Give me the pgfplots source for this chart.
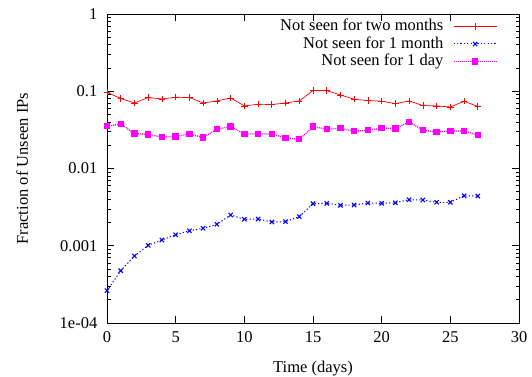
\documentclass[border=0pt]{standalone}
\usepackage{fontspec}
\setmainfont{Liberation Serif}
\usepackage{pgfplots}
\pgfplotsset{compat=1.18}
\usepackage{pgfplotstable}
\definecolor{gpred}{rgb}{1,0,0}
\definecolor{gpblue}{rgb}{0,0,1}
\definecolor{gpmag}{rgb}{1,0,1}

\pgfplotstableread{
x y
0 0.097
1 0.0804
2 0.0706
3 0.0829
4 0.0795
5 0.0836
6 0.0829
7 0.0706
8 0.0749
9 0.0819
10 0.0646
11 0.0679
12 0.0673
13 0.0706
14 0.0749
15 0.102
16 0.102
17 0.0896
18 0.0788
19 0.0758
20 0.0742
21 0.0693
22 0.0749
23 0.0653
24 0.0646
25 0.0626
26 0.0742
27 0.0636
}\twomonths

\pgfplotstableread{
x y
0 0.000262
1 0.000475
2 0.000737
3 0.001013
4 0.001187
5 0.00139
6 0.001566
7 0.001682
8 0.001895
9 0.00250
10 0.00220
11 0.00222
12 0.00203
13 0.00205
14 0.00238
15 0.00350
16 0.00354
17 0.00334
18 0.00337
19 0.00358
20 0.00354
21 0.00361
22 0.00395
23 0.00391
24 0.00365
25 0.00365
26 0.00444
27 0.00440
}\onemonth

\pgfplotstableread{
x y
0 0.0352
1 0.0377
2 0.0283
3 0.0275
4 0.0256
5 0.0259
6 0.0280
7 0.0252
8 0.0322
9 0.0349
10 0.0280
11 0.0280
12 0.0280
13 0.0249
14 0.0239
15 0.0349
16 0.0322
17 0.0332
18 0.0304
19 0.0313
20 0.0332
21 0.0329
22 0.0401
23 0.0313
24 0.0297
25 0.0306
26 0.0306
27 0.0270
}\oneday

\begin{document}
\fontsize{16.5bp}{19bp}\selectfont
\begin{tikzpicture}
\begin{axis}[
  at={(107bp,54bp)}, anchor=south west,
  scale only axis,
  width=412bp, height=309bp,
  ymode=log,
  xmin=0, xmax=30, ymin=1e-4, ymax=1,
  xtick={0,5,10,15,20,25,30},
  ytick={1e-4,1e-3,1e-2,1e-1,1},
  yticklabels={1e-04,0.001,0.01,0.1,1},
  /pgf/number format/assume math mode=true,
  tick align=inside,
  major tick length=7bp,
  minor tick length=3.5bp,
  tick style={black, line width=0.6bp},
  axis line style={line width=0.9bp},
  xlabel={Time (days)},
  ylabel={Fraction of Unseen IPs},
  xlabel style={at={(axis description cs:0.5,-0.105)}, anchor=north},
  ylabel style={at={(axis description cs:-0.206,0.5)}, anchor=center},
  xticklabel style={yshift=-3bp},
  yticklabel style={xshift=-4bp},
  legend plot pos=right,
  legend cell align=right,
  legend style={draw=none, fill=none, at={(rel axis cs:0.955,0.995)}, anchor=north east,
    nodes={inner sep=1.5bp, text height=11.5bp, text depth=3bp},
    column sep=8bp},
  legend image code/.code={\draw[mark repeat=2,mark phase=2,#1] plot coordinates {(0bp,0bp)(21.5bp,0bp)(43bp,0bp)};},
]
\addplot[color=gpred, line width=0.7bp, mark=+, mark size=3.2bp, mark options={solid, line width=0.7bp}] table[x=x,y=y] {\twomonths};
\addlegendentry{Not seen for two months}
\addplot[color=gpblue, line width=1bp, dash pattern=on 1.2bp off 2.2bp, mark=x, mark size=3bp, mark options={solid, line width=1.1bp}] table[x=x,y=y] {\onemonth};
\addlegendentry{Not seen for 1 month}
\addplot[color=gpmag, line width=1.4bp, dash pattern=on 1bp off 1bp, mark=square*, mark size=2.5bp, mark options={solid}] table[x=x,y=y] {\oneday};
\addlegendentry{Not seen for 1 day}
\end{axis}
\pgfresetboundingbox
\path[use as bounding box] (0bp,0bp) rectangle (532bp,377bp);
\end{tikzpicture}
\end{document}
